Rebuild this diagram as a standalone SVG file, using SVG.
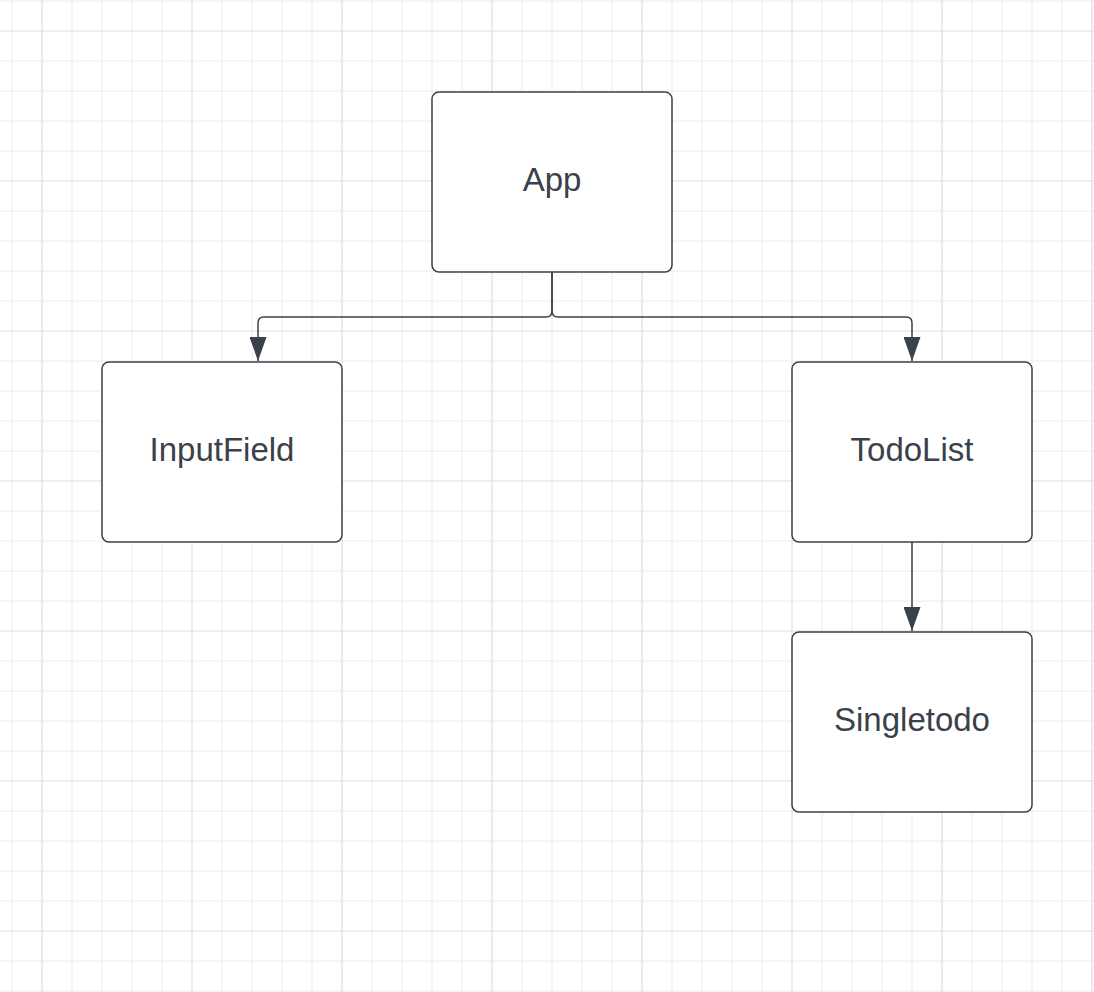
<svg xmlns="http://www.w3.org/2000/svg" width="1094" height="992" viewBox="0 0 1094 992">
<defs>
<style>
.minor{stroke:#ececec;stroke-width:1}
.major{stroke:#dedede;stroke-width:1.2}
.box{fill:#ffffff;stroke:#3a414a;stroke-width:1.5}
.lbl{font-family:"Liberation Sans",Arial,sans-serif;font-size:33px;fill:#3a414a;text-anchor:middle}
.conn{fill:none;stroke:#3a414a;stroke-width:1.5}
</style>
<marker id="ah" viewBox="0 0 24 17" refX="24" refY="8.5" markerWidth="24" markerHeight="17" markerUnits="userSpaceOnUse" orient="auto">
<path d="M0,0 L24,8.5 L0,17 Z" fill="#3a414a"/>
</marker>
</defs>
<rect width="1094" height="992" fill="#ffffff"/>
<g id="grid">
<g class="minor">
<path d="M12,0V992M72,0V992M102,0V992M132,0V992M162,0V992M222,0V992M252,0V992M282,0V992M312,0V992M372,0V992M402,0V992M432,0V992M462,0V992M522,0V992M552,0V992M582,0V992M612,0V992M672,0V992M702,0V992M732,0V992M762,0V992M822,0V992M852,0V992M882,0V992M912,0V992M972,0V992M1002,0V992M1032,0V992M1062,0V992"/>
<path d="M0,1H1094M0,61H1094M0,91H1094M0,121H1094M0,151H1094M0,211H1094M0,241H1094M0,271H1094M0,301H1094M0,361H1094M0,391H1094M0,421H1094M0,451H1094M0,511H1094M0,541H1094M0,571H1094M0,601H1094M0,661H1094M0,691H1094M0,721H1094M0,751H1094M0,811H1094M0,841H1094M0,871H1094M0,901H1094M0,961H1094M0,991H1094"/>
</g>
<g class="major">
<path d="M42,0V992M192,0V992M342,0V992M492,0V992M642,0V992M792,0V992M942,0V992M1092,0V992"/>
<path d="M0,31H1094M0,181H1094M0,331H1094M0,481H1094M0,631H1094M0,781H1094M0,931H1094"/>
</g>
</g>
<g id="connectors">
<path class="conn" d="M552,272V311Q552,317 546,317H264Q258,317 258,323V361" marker-end="url(#ah)"/>
<path class="conn" d="M552,272V311Q552,317 558,317H906Q912,317 912,323V361" marker-end="url(#ah)"/>
<path class="conn" d="M912,542V631" marker-end="url(#ah)"/>
</g>
<g id="node-app">
<rect class="box" x="432" y="92" width="240" height="180" rx="7"/>
<text class="lbl" x="552" y="191">App</text>
</g>
<g id="node-inputfield">
<rect class="box" x="102" y="362" width="240" height="180" rx="7"/>
<text class="lbl" x="222" y="461">InputField</text>
</g>
<g id="node-todolist">
<rect class="box" x="792" y="362" width="240" height="180" rx="7"/>
<text class="lbl" x="912" y="461">TodoList</text>
</g>
<g id="node-singletodo">
<rect class="box" x="792" y="632" width="240" height="180" rx="7"/>
<text class="lbl" x="912" y="731">Singletodo</text>
</g>
</svg>
